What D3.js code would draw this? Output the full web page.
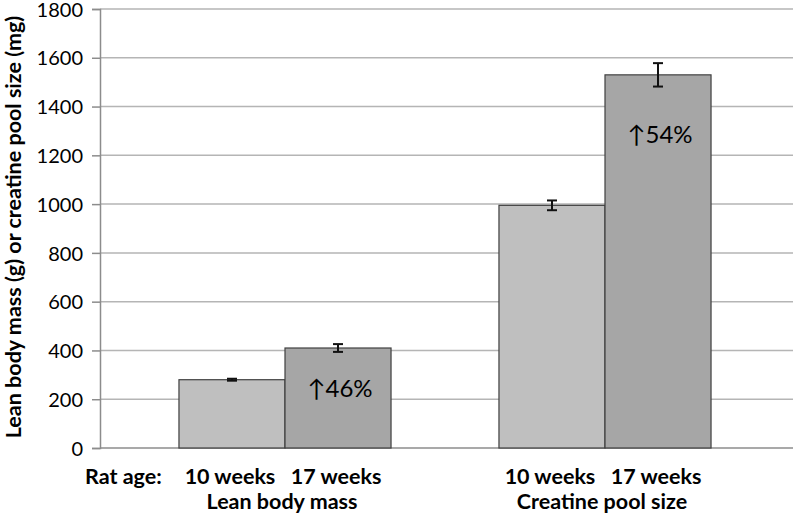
<!DOCTYPE html>
<html><head><meta charset="utf-8">
<script src="https://cdn.jsdelivr.net/npm/d3@7"></script>
<style>
html,body{margin:0;padding:0;background:#fff;}
svg{display:block;}
text{font-family:Lato,"DejaVu Sans",sans-serif;fill:#000;}
</style></head>
<body>
<svg id="c" width="793" height="516"></svg>
<script>
const groups = ["Lean body mass", "Creatine pool size"];
const ages = ["10 weeks", "17 weeks"];
const means = [[280, 410], [995, 1530]];
const errors = [[4, 16], [20, 48]];
const increaseLabels = ["↑46%", "↑54%"];
const increaseLabelAt = [246, 1287];
const yTicks = [0, 200, 400, 600, 800, 1000, 1200, 1400, 1600, 1800];
const yTitle = "Lean body mass (g) or creatine pool size (mg)";
const ageLabel = "Rat age:";

const W = 793, H = 516;
const m = {left: 100, top: 9, bottom: 448};
const svg = d3.select("#c");

const y = d3.scaleLinear().domain([0, 1800]).range([m.bottom, m.top]);
const x0 = d3.scaleBand().domain(groups).range([125, 765]).padding(0);
const x1 = d3.scaleBand().domain(ages).range([0, x0.bandwidth()]).paddingInner(0).paddingOuter(0.509);
const fills = ["#bfbfbf", "#a6a6a6"];

// gridlines
svg.append("g").selectAll("line").data(yTicks).join("line")
  .attr("x1", m.left).attr("x2", W)
  .attr("y1", d => y(d)).attr("y2", d => y(d))
  .attr("stroke", d => d === 0 ? "#8c8c8c" : "#b5b5b5").attr("stroke-width", 1.5);

// y axis
const ya = svg.append("g").attr("transform", `translate(${m.left},0)`)
  .call(d3.axisLeft(y).tickValues(yTicks).tickSize(8).tickPadding(9).tickFormat(d3.format("d")));
ya.select(".domain").attr("stroke", "#8c8c8c").attr("stroke-width", 1.5);
ya.selectAll(".tick line").attr("stroke", "#8c8c8c").attr("stroke-width", 1.5);
ya.selectAll(".tick text").style("font-family", "Lato, sans-serif").style("font-size", "20px").attr("fill", "#000").attr("dy", "0.36em");

// bars
const data = [];
groups.forEach((g, gi) => ages.forEach((a, ai) => data.push({g, a, gi, ai, v: means[gi][ai], e: errors[gi][ai]})));
const bx = d => x0(d.g) + x1(d.a);
svg.append("g").selectAll("rect").data(data).join("rect")
  .attr("x", bx).attr("width", x1.bandwidth())
  .attr("y", d => y(d.v)).attr("height", d => y(0) - y(d.v))
  .attr("fill", d => fills[d.ai]).attr("stroke", "#404040").attr("stroke-width", 1.2);

// error bars
const eb = svg.append("g").attr("stroke", "#111").attr("stroke-width", 2);
data.forEach(d => {
  const cx = bx(d) + x1.bandwidth() / 2;
  eb.append("line").attr("x1", cx).attr("x2", cx).attr("y1", y(d.v + d.e)).attr("y2", y(d.v - d.e));
  eb.append("line").attr("x1", cx - 5).attr("x2", cx + 5).attr("y1", y(d.v + d.e)).attr("y2", y(d.v + d.e));
  eb.append("line").attr("x1", cx - 5).attr("x2", cx + 5).attr("y1", y(d.v - d.e)).attr("y2", y(d.v - d.e));
});

// increase annotations
groups.forEach((g, gi) => {
  svg.append("text")
    .attr("x", x0(g) + x1(ages[1]) + x1.bandwidth() / 2 + 2)
    .attr("y", y(increaseLabelAt[gi])).attr("dy", "0.36em")
    .attr("text-anchor", "middle").style("font-size", "24px")
    .text(increaseLabels[gi]);
});

// category labels
const lab = svg.append("g").style("font-weight", "bold").style("font-size", "21.5px");
lab.append("text").attr("x", 85).attr("y", 484).text(ageLabel);
data.forEach(d => {
  lab.append("text").attr("x", bx(d) + x1.bandwidth() / 2 - 2).attr("y", 484)
    .attr("text-anchor", "middle").text(d.a);
});
groups.forEach(g => {
  lab.append("text").attr("x", x0(g) + x0.bandwidth() / 2 - 3).attr("y", 509)
    .attr("text-anchor", "middle").text(g);
});

// y title
svg.append("text").attr("transform", "translate(21,227) rotate(-90)")
  .attr("text-anchor", "middle").style("font-weight", "bold").style("font-size", "21.5px")
  .text(yTitle);
</script>
</body></html>
